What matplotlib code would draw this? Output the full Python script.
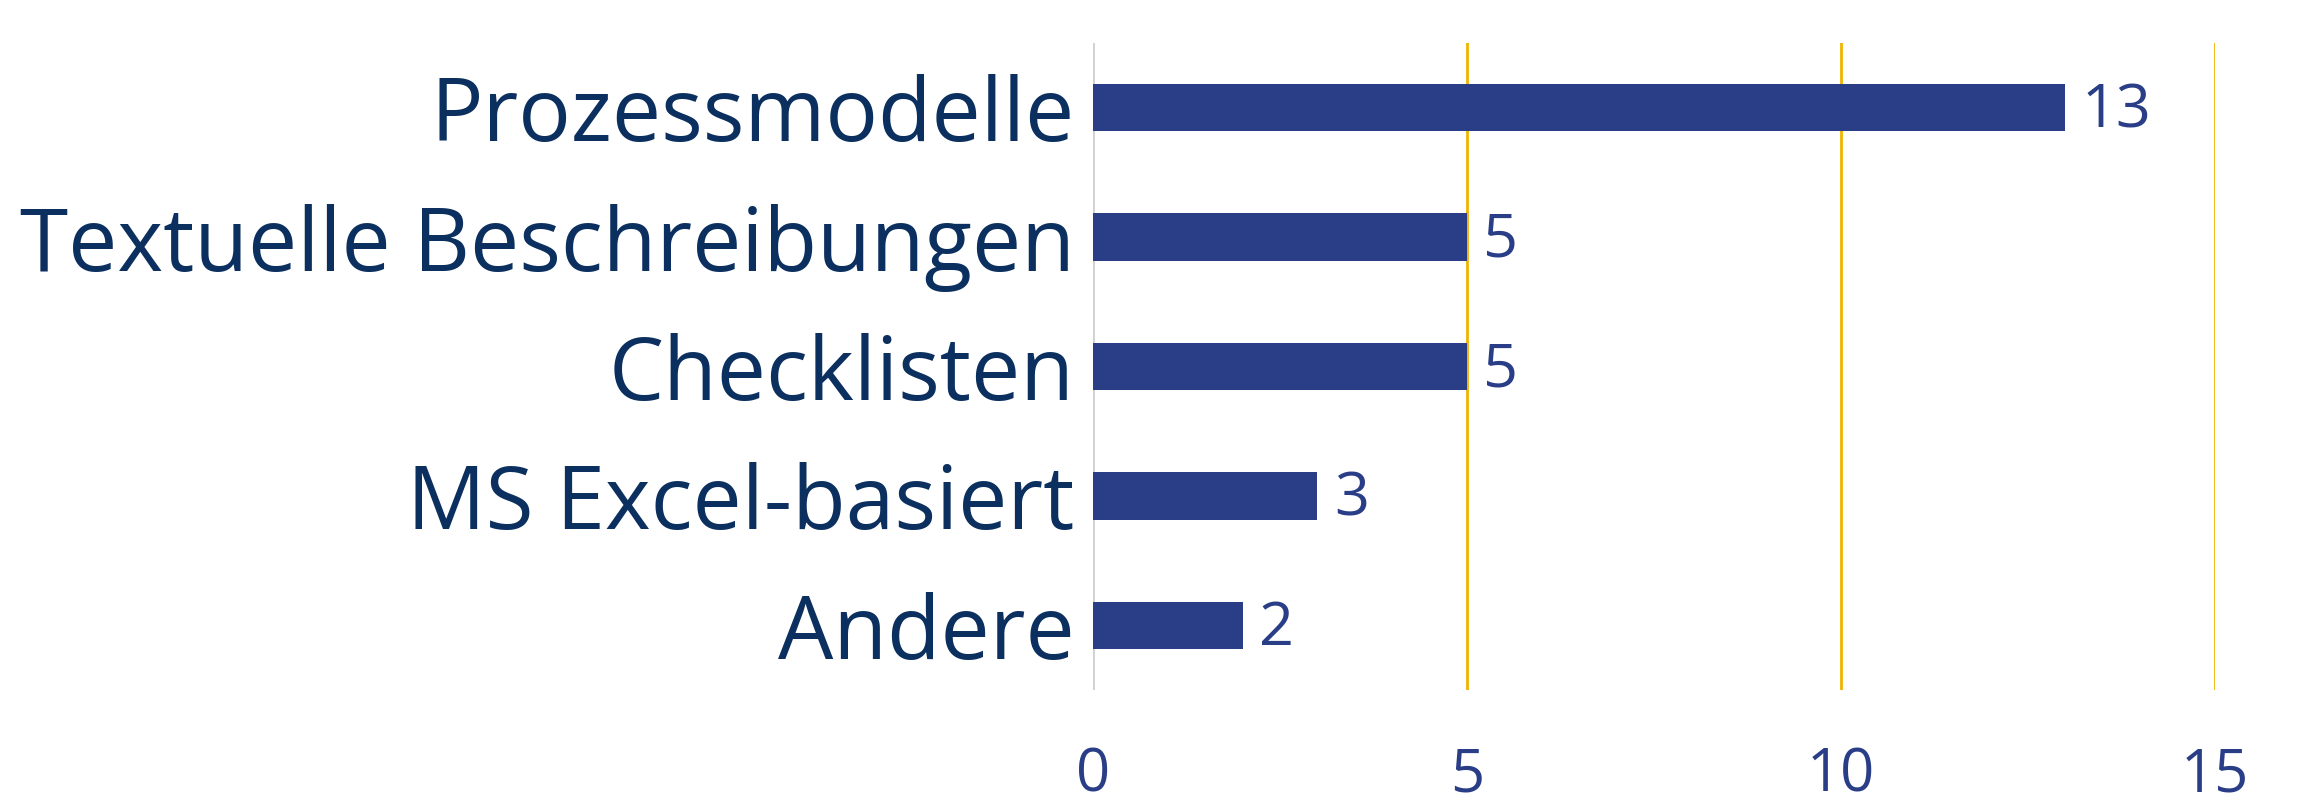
import matplotlib.pyplot as plt

plt.rcParams['font.family'] = ['Open Sans', 'DejaVu Sans']

CATS = ['Prozessmodelle', 'Textuelle Beschreibungen', 'Checklisten',
        'MS Excel-basiert', 'Andere']
WERTE = [13, 5, 5, 3, 2]
X_TICKS = [0, 5, 10, 15]

BAR = '#2a3d87'
NAVY = '#0b2f5e'
GOLD = '#f0b400'

fig = plt.figure(figsize=(23.17, 8.09), dpi=100)
ax = fig.add_axes([0.4717, 0.147, 0.4843, 0.800])

ypos = range(len(CATS))
ax.barh(ypos, WERTE, height=0.365, color=BAR, zorder=3)
for y, v in zip(ypos, WERTE):
    ax.text(v + 0.22, y + 0.03, f'{v}', va='center', ha='left', fontsize=44, color=BAR)

ax.set_xlim(0, 15)
ax.set_ylim(len(CATS) - 0.5, -0.5)
ax.set_xticks(X_TICKS)
ax.set_xticklabels([str(t) for t in X_TICKS], fontsize=43, color=BAR)
ax.set_yticks(list(ypos))
ax.set_yticklabels(CATS, fontsize=63, color=NAVY)
ax.tick_params(axis='both', length=0)
ax.tick_params(axis='x', pad=40)
ax.tick_params(axis='y', pad=13)

for t in X_TICKS:
    ax.axvline(t, color='#d0d0d0' if t == 0 else GOLD, lw=2, zorder=1)
for s in ax.spines.values():
    s.set_visible(False)

fig.savefig('out.png', dpi=100, facecolor='white')
